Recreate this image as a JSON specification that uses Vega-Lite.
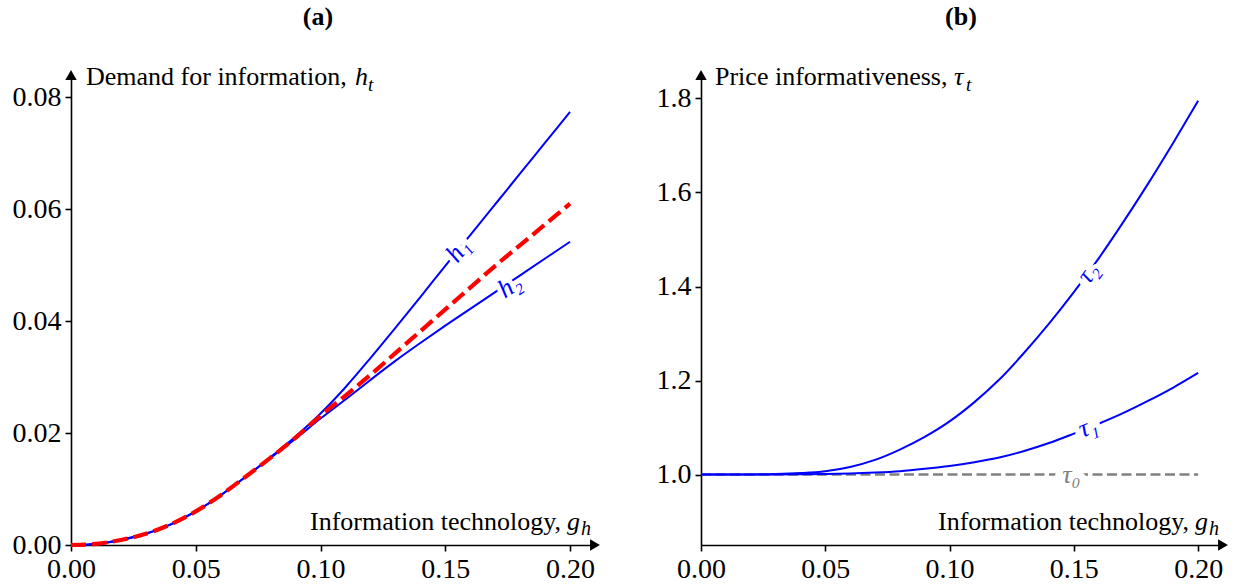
{
  "$schema": "https://vega.github.io/schema/vega-lite/v6.json",
  "padding": {"left": 12, "top": 4, "right": 0, "bottom": 0},
  "bounds": "flush",
  "spacing": 106,
  "config": {
    "view": {"stroke": null},
    "font": "Liberation Serif, Times New Roman, serif",
    "axis": {"grid": false, "domainColor": "black", "domainWidth": 1.6, "tickColor": "black", "tickWidth": 1.6, "tickSize": 6, "labelFont": "Liberation Serif, Times New Roman, serif", "labelFontSize": 28, "labelColor": "black", "labelFlush": false, "labelOverlap": false, "labelPadding": 4},
    "title": {"font": "Liberation Serif, Times New Roman, serif", "fontSize": 26, "fontWeight": "bold", "color": "black"},
    "text": {"font": "Liberation Serif, Times New Roman, serif", "fontSize": 26, "fontWeight": "normal"}
  },
  "datasets": {
    "a": [
      {"g": 0.00, "h1": 0.0000, "h2": 0.0000, "hbar": 0.0000},
      {"g": 0.01, "h1": 0.0002, "h2": 0.0002, "hbar": 0.0002},
      {"g": 0.02, "h1": 0.0009, "h2": 0.0009, "hbar": 0.0009},
      {"g": 0.03, "h1": 0.0020, "h2": 0.0020, "hbar": 0.0020},
      {"g": 0.04, "h1": 0.0037, "h2": 0.0037, "hbar": 0.0037},
      {"g": 0.05, "h1": 0.0060, "h2": 0.0060, "hbar": 0.0060},
      {"g": 0.06, "h1": 0.0089, "h2": 0.0089, "hbar": 0.0089},
      {"g": 0.07, "h1": 0.0122, "h2": 0.0122, "hbar": 0.0122},
      {"g": 0.08, "h1": 0.0157, "h2": 0.0156, "hbar": 0.0156},
      {"g": 0.09, "h1": 0.0194, "h2": 0.0190, "hbar": 0.0192},
      {"g": 0.10, "h1": 0.0235, "h2": 0.0226, "hbar": 0.0231},
      {"g": 0.11, "h1": 0.0282, "h2": 0.0260, "hbar": 0.0267},
      {"g": 0.12, "h1": 0.0334, "h2": 0.0295, "hbar": 0.0304},
      {"g": 0.13, "h1": 0.0388, "h2": 0.0329, "hbar": 0.0343},
      {"g": 0.14, "h1": 0.0443, "h2": 0.0361, "hbar": 0.0382},
      {"g": 0.15, "h1": 0.0499, "h2": 0.0392, "hbar": 0.0421},
      {"g": 0.16, "h1": 0.0554, "h2": 0.0422, "hbar": 0.0460},
      {"g": 0.17, "h1": 0.0609, "h2": 0.0452, "hbar": 0.0499},
      {"g": 0.18, "h1": 0.0664, "h2": 0.0482, "hbar": 0.0536},
      {"g": 0.19, "h1": 0.0719, "h2": 0.0512, "hbar": 0.0573},
      {"g": 0.20, "h1": 0.0774, "h2": 0.0542, "hbar": 0.0610}
    ],
    "b": [
      {"g": 0.00, "t0": 1, "t1": 1.0000, "t2": 1.0000},
      {"g": 0.01, "t0": 1, "t1": 1.0000, "t2": 1.0000},
      {"g": 0.02, "t0": 1, "t1": 1.0000, "t2": 1.0002},
      {"g": 0.03, "t0": 1, "t1": 1.0000, "t2": 1.0010},
      {"g": 0.04, "t0": 1, "t1": 1.0003, "t2": 1.0030},
      {"g": 0.05, "t0": 1, "t1": 1.0010, "t2": 1.0070},
      {"g": 0.06, "t0": 1, "t1": 1.0020, "t2": 1.0160},
      {"g": 0.07, "t0": 1, "t1": 1.0040, "t2": 1.0310},
      {"g": 0.08, "t0": 1, "t1": 1.0070, "t2": 1.0530},
      {"g": 0.09, "t0": 1, "t1": 1.0120, "t2": 1.0800},
      {"g": 0.10, "t0": 1, "t1": 1.0180, "t2": 1.1130},
      {"g": 0.11, "t0": 1, "t1": 1.0260, "t2": 1.1540},
      {"g": 0.12, "t0": 1, "t1": 1.0360, "t2": 1.2020},
      {"g": 0.13, "t0": 1, "t1": 1.0500, "t2": 1.2590},
      {"g": 0.14, "t0": 1, "t1": 1.0670, "t2": 1.3210},
      {"g": 0.15, "t0": 1, "t1": 1.0870, "t2": 1.3880},
      {"g": 0.16, "t0": 1, "t1": 1.1080, "t2": 1.4600},
      {"g": 0.17, "t0": 1, "t1": 1.1310, "t2": 1.5380},
      {"g": 0.18, "t0": 1, "t1": 1.1570, "t2": 1.6200},
      {"g": 0.19, "t0": 1, "t1": 1.1850, "t2": 1.7060},
      {"g": 0.20, "t0": 1, "t1": 1.2160, "t2": 1.7950}
    ],
    "one": [{}]
  },
  "hconcat": [
    {
      "width": 524,
      "height": 470,
      "title": {"text": "(a)", "dx": -15, "offset": 34},
      "layer": [
        {
          "data": {"name": "a"},
          "mark": {"type": "line", "color": "#0000ff", "strokeWidth": 2, "interpolate": "monotone"},
          "encoding": {
            "x": {"field": "g", "type": "quantitative", "scale": {"domain": [0, 0.21], "nice": false, "zero": false}, "axis": {"title": null, "values": [0, 0.05, 0.1, 0.15, 0.2], "format": ".2f"}},
            "y": {"field": "h1", "type": "quantitative", "scale": {"domain": [0, 0.084], "nice": false, "zero": false}, "axis": {"title": null, "values": [0, 0.02, 0.04, 0.06, 0.08], "format": ".2f"}}
          }
        },
        {
          "data": {"name": "a"},
          "mark": {"type": "line", "color": "#0000ff", "strokeWidth": 2, "interpolate": "monotone"},
          "encoding": {"x": {"field": "g", "type": "quantitative"}, "y": {"field": "h2", "type": "quantitative"}}
        },
        {
          "data": {"name": "a"},
          "mark": {"type": "line", "color": "#ff0000", "strokeWidth": 4.2, "strokeDash": [15, 6], "interpolate": "monotone"},
          "encoding": {"x": {"field": "g", "type": "quantitative"}, "y": {"field": "hbar", "type": "quantitative"}}
        },
        {
          "data": {"name": "one"},
          "mark": {"type": "text", "text": "h₁", "fontStyle": "italic", "angle": 308, "align": "center", "baseline": "middle", "fill": "white", "stroke": "white", "strokeWidth": 9},
          "encoding": {"x": {"datum": 0.1551, "type": "quantitative"}, "y": {"datum": 0.0527, "type": "quantitative"}}
        },
        {
          "data": {"name": "one"},
          "mark": {"type": "text", "text": "h₁", "fontStyle": "italic", "angle": 308, "align": "center", "baseline": "middle", "fill": "#0000ff"},
          "encoding": {"x": {"datum": 0.1551, "type": "quantitative"}, "y": {"datum": 0.0527, "type": "quantitative"}}
        },
        {
          "data": {"name": "one"},
          "mark": {"type": "text", "text": "h₂", "fontStyle": "italic", "angle": 327, "align": "center", "baseline": "middle", "fill": "white", "stroke": "white", "strokeWidth": 9},
          "encoding": {"x": {"datum": 0.1758, "type": "quantitative"}, "y": {"datum": 0.0463, "type": "quantitative"}}
        },
        {
          "data": {"name": "one"},
          "mark": {"type": "text", "text": "h₂", "fontStyle": "italic", "angle": 327, "align": "center", "baseline": "middle", "fill": "#0000ff"},
          "encoding": {"x": {"datum": 0.1758, "type": "quantitative"}, "y": {"datum": 0.0463, "type": "quantitative"}}
        },
        {
          "data": {"name": "one"},
          "mark": {"type": "point", "shape": "triangle-up", "filled": true, "color": "black", "opacity": 1, "size": 130},
          "encoding": {"x": {"datum": 0, "type": "quantitative"}, "y": {"datum": 0.084, "type": "quantitative"}}
        },
        {
          "data": {"name": "one"},
          "mark": {"type": "point", "shape": "triangle-right", "filled": true, "color": "black", "opacity": 1, "size": 130},
          "encoding": {"x": {"datum": 0.21, "type": "quantitative"}, "y": {"datum": 0, "type": "quantitative"}}
        },
        {
          "data": {"name": "one"},
          "mark": {"type": "text", "text": "Demand for information,", "fill": "black", "align": "left", "baseline": "alphabetic", "dx": 15, "dy": 10},
          "encoding": {"x": {"datum": 0, "type": "quantitative"}, "y": {"datum": 0.084, "type": "quantitative"}}
        },
        {
          "data": {"name": "one"},
          "mark": {"type": "text", "text": "h", "fill": "black", "fontStyle": "italic", "align": "left", "baseline": "alphabetic", "dx": 284, "dy": 10},
          "encoding": {"x": {"datum": 0, "type": "quantitative"}, "y": {"datum": 0.084, "type": "quantitative"}}
        },
        {
          "data": {"name": "one"},
          "mark": {"type": "text", "text": "t", "fill": "black", "fontStyle": "italic", "fontSize": 19, "align": "left", "baseline": "alphabetic", "dx": 297, "dy": 16},
          "encoding": {"x": {"datum": 0, "type": "quantitative"}, "y": {"datum": 0.084, "type": "quantitative"}}
        },
        {
          "data": {"name": "one"},
          "mark": {"type": "text", "text": "Information technology,", "fill": "black", "align": "right", "baseline": "alphabetic", "dx": -34, "dy": -15},
          "encoding": {"x": {"datum": 0.21, "type": "quantitative"}, "y": {"datum": 0, "type": "quantitative"}}
        },
        {
          "data": {"name": "one"},
          "mark": {"type": "text", "text": "g", "fill": "black", "fontStyle": "italic", "align": "left", "baseline": "alphabetic", "dx": -28, "dy": -15},
          "encoding": {"x": {"datum": 0.21, "type": "quantitative"}, "y": {"datum": 0, "type": "quantitative"}}
        },
        {
          "data": {"name": "one"},
          "mark": {"type": "text", "text": "h", "fill": "black", "fontStyle": "italic", "fontSize": 20, "align": "left", "baseline": "alphabetic", "dx": -14, "dy": -10},
          "encoding": {"x": {"datum": 0.21, "type": "quantitative"}, "y": {"datum": 0, "type": "quantitative"}}
        }
      ]
    },
    {
      "width": 522,
      "height": 470,
      "title": {"text": "(b)", "dx": -1, "offset": 34},
      "layer": [
        {
          "data": {"name": "b"},
          "mark": {"type": "line", "color": "#808080", "strokeWidth": 2.7, "strokeDash": [10, 4.5]},
          "encoding": {
            "x": {"field": "g", "type": "quantitative", "scale": {"domain": [0, 0.21], "nice": false, "zero": false}, "axis": {"title": null, "values": [0, 0.05, 0.1, 0.15, 0.2], "format": ".2f"}},
            "y": {"field": "t0", "type": "quantitative", "scale": {"domain": [0.85, 1.85], "nice": false, "zero": false}, "axis": {"title": null, "values": [1.0, 1.2, 1.4, 1.6, 1.8], "format": ".1f"}}
          }
        },
        {
          "data": {"name": "b"},
          "mark": {"type": "line", "color": "#0000ff", "strokeWidth": 2, "interpolate": "monotone"},
          "encoding": {"x": {"field": "g", "type": "quantitative"}, "y": {"field": "t1", "type": "quantitative"}}
        },
        {
          "data": {"name": "b"},
          "mark": {"type": "line", "color": "#0000ff", "strokeWidth": 2, "interpolate": "monotone"},
          "encoding": {"x": {"field": "g", "type": "quantitative"}, "y": {"field": "t2", "type": "quantitative"}}
        },
        {
          "data": {"name": "one"},
          "mark": {"type": "text", "text": "τ₂", "fontStyle": "italic", "angle": 306, "align": "center", "baseline": "middle", "fill": "white", "stroke": "white", "strokeWidth": 9},
          "encoding": {"x": {"datum": 0.1557, "type": "quantitative"}, "y": {"datum": 1.429, "type": "quantitative"}}
        },
        {
          "data": {"name": "one"},
          "mark": {"type": "text", "text": "τ₂", "fontStyle": "italic", "angle": 306, "align": "center", "baseline": "middle", "fill": "#0000ff"},
          "encoding": {"x": {"datum": 0.1557, "type": "quantitative"}, "y": {"datum": 1.429, "type": "quantitative"}}
        },
        {
          "data": {"name": "one"},
          "mark": {"type": "text", "text": "τ₁", "fontStyle": "italic", "angle": 339, "align": "center", "baseline": "middle", "fill": "white", "stroke": "white", "strokeWidth": 9},
          "encoding": {"x": {"datum": 0.1557, "type": "quantitative"}, "y": {"datum": 1.101, "type": "quantitative"}}
        },
        {
          "data": {"name": "one"},
          "mark": {"type": "text", "text": "τ₁", "fontStyle": "italic", "angle": 339, "align": "center", "baseline": "middle", "fill": "#0000ff"},
          "encoding": {"x": {"datum": 0.1557, "type": "quantitative"}, "y": {"datum": 1.101, "type": "quantitative"}}
        },
        {
          "data": {"name": "one"},
          "mark": {"type": "text", "text": "τ₀", "fontStyle": "italic", "align": "center", "baseline": "middle", "fill": "white", "stroke": "white", "strokeWidth": 14},
          "encoding": {"x": {"datum": 0.149, "type": "quantitative"}, "y": {"datum": 1.0, "type": "quantitative"}}
        },
        {
          "data": {"name": "one"},
          "mark": {"type": "text", "text": "τ₀", "fontStyle": "italic", "align": "center", "baseline": "middle", "fill": "#808080"},
          "encoding": {"x": {"datum": 0.149, "type": "quantitative"}, "y": {"datum": 1.0, "type": "quantitative"}}
        },
        {
          "data": {"name": "one"},
          "mark": {"type": "point", "shape": "triangle-up", "filled": true, "color": "black", "opacity": 1, "size": 130},
          "encoding": {"x": {"datum": 0, "type": "quantitative"}, "y": {"datum": 1.85, "type": "quantitative"}}
        },
        {
          "data": {"name": "one"},
          "mark": {"type": "point", "shape": "triangle-right", "filled": true, "color": "black", "opacity": 1, "size": 130},
          "encoding": {"x": {"datum": 0.21, "type": "quantitative"}, "y": {"datum": 0.85, "type": "quantitative"}}
        },
        {
          "data": {"name": "one"},
          "mark": {"type": "text", "text": "Price informativeness,", "fill": "black", "align": "left", "baseline": "alphabetic", "dx": 14, "dy": 10},
          "encoding": {"x": {"datum": 0, "type": "quantitative"}, "y": {"datum": 1.85, "type": "quantitative"}}
        },
        {
          "data": {"name": "one"},
          "mark": {"type": "text", "text": "τ", "fill": "black", "fontStyle": "italic", "align": "left", "baseline": "alphabetic", "dx": 253, "dy": 10},
          "encoding": {"x": {"datum": 0, "type": "quantitative"}, "y": {"datum": 1.85, "type": "quantitative"}}
        },
        {
          "data": {"name": "one"},
          "mark": {"type": "text", "text": "t", "fill": "black", "fontStyle": "italic", "fontSize": 19, "align": "left", "baseline": "alphabetic", "dx": 265, "dy": 16},
          "encoding": {"x": {"datum": 0, "type": "quantitative"}, "y": {"datum": 1.85, "type": "quantitative"}}
        },
        {
          "data": {"name": "one"},
          "mark": {"type": "text", "text": "Information technology,", "fill": "black", "align": "right", "baseline": "alphabetic", "dx": -34, "dy": -15},
          "encoding": {"x": {"datum": 0.21, "type": "quantitative"}, "y": {"datum": 0.85, "type": "quantitative"}}
        },
        {
          "data": {"name": "one"},
          "mark": {"type": "text", "text": "g", "fill": "black", "fontStyle": "italic", "align": "left", "baseline": "alphabetic", "dx": -28, "dy": -15},
          "encoding": {"x": {"datum": 0.21, "type": "quantitative"}, "y": {"datum": 0.85, "type": "quantitative"}}
        },
        {
          "data": {"name": "one"},
          "mark": {"type": "text", "text": "h", "fill": "black", "fontStyle": "italic", "fontSize": 20, "align": "left", "baseline": "alphabetic", "dx": -14, "dy": -10},
          "encoding": {"x": {"datum": 0.21, "type": "quantitative"}, "y": {"datum": 0.85, "type": "quantitative"}}
        }
      ]
    }
  ]
}
